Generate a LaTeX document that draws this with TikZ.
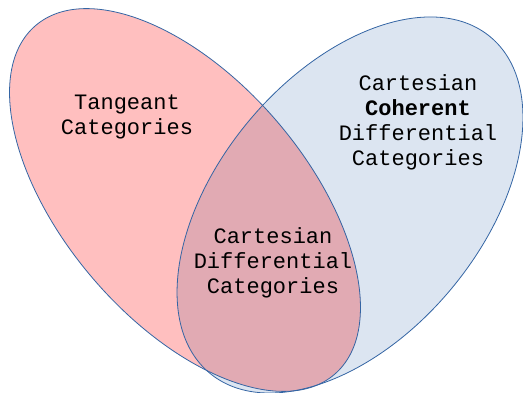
\documentclass[tikz,border=0pt]{standalone}
\usepackage{fontspec}
\newfontfamily\vennmono{Liberation Mono}
\definecolor{tanfill}{HTML}{FFBFBF}
\definecolor{cohfill}{HTML}{DCE5F1}
\definecolor{lensfill}{HTML}{E1AAB3}
\definecolor{rim}{HTML}{3465A4}
\tikzset{
  setlabel/.style={align=center, inner sep=0pt, font=\vennmono\fontsize{22}{25}\selectfont},
  rimline/.style={draw=rim, line width=0.8pt}
}
\begin{document}
\begin{tikzpicture}[x=1pt, y=1pt]
  \useasboundingbox (0,0) rectangle (523,393);
  % the two sets
  \fill[cohfill, rotate around={50.1:(350,188)}] (350,188) ellipse [x radius=219pt, y radius=131.5pt];
  \fill[tanfill, rotate around={-49.4:(185,193)}] (185,193) ellipse [x radius=229.7pt, y radius=121pt];
  % their intersection
  \begin{scope}
    \clip[rotate around={50.1:(350,188)}] (350,188) ellipse [x radius=219pt, y radius=131.5pt];
    \fill[lensfill, rotate around={-49.4:(185,193)}] (185,193) ellipse [x radius=229.7pt, y radius=121pt];
  \end{scope}
  % outlines
  \draw[rimline, rotate around={50.1:(350,188)}] (350,188) ellipse [x radius=219pt, y radius=131.5pt];
  \draw[rimline, rotate around={-49.4:(185,193)}] (185,193) ellipse [x radius=229.7pt, y radius=121pt];
  % labels
  \node[setlabel] (tan) at (127,276) {Tangeant\\Categories};
  \node[setlabel] (coh) at (418,271) {Cartesian\\\textbf{Coherent}\\Differential\\Categories};
  \node[setlabel] (cdc) at (273,130) {Cartesian\\Differential\\Categories};
\end{tikzpicture}
\end{document}
